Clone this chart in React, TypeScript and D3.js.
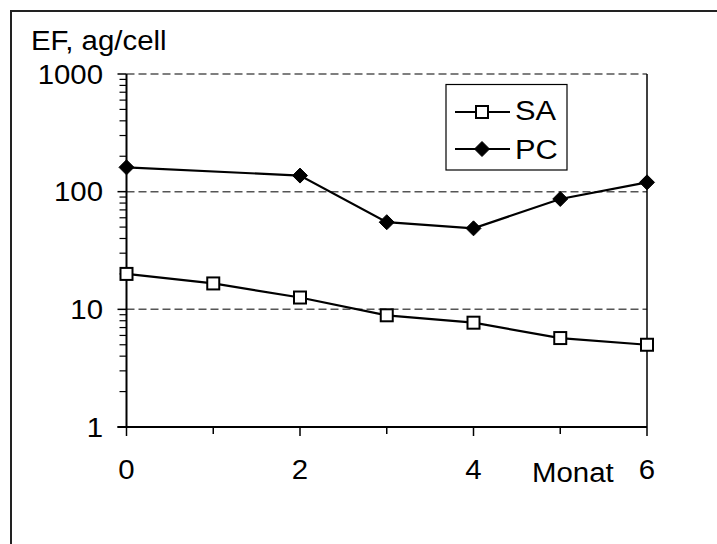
import React from "react";
import * as d3 from "d3";

const months = [0, 1, 2, 3, 4, 5, 6];
const saValues = [20, 16.6, 12.6, 8.9, 7.7, 5.7, 5.0];
const pcMonths = [0, 2, 3, 4, 5, 6];
const pcValues = [161, 137, 55, 48.8, 86.7, 120];
const yTickValues = [1, 10, 100, 1000];
const xTickLabels = [0, 2, 4, 6];
const xMinorTicks = [1, 3, 5];
const seriesNames = ["SA", "PC"];

const W = 717;
const H = 544;
const FONT = "'Liberation Sans', Arial, Helvetica, sans-serif";

export default function App() {
  const x = d3.scaleLinear().domain([0, 6]).range([126.5, 647]);
  const y = d3.scaleLog().domain([1, 1000]).range([427, 74]);

  const line = d3
    .line<[number, number]>()
    .x((d) => x(d[0]))
    .y((d) => y(d[1]));

  const saPts: [number, number][] = months.map((m, i) => [m, saValues[i]]);
  const pcPts: [number, number][] = pcMonths.map((m, i) => [m, pcValues[i]]);

  // log-scale minor ticks 2..9 in each decade
  const minorY: number[] = [];
  for (let dec = 1; dec < 1000; dec *= 10) {
    for (let k = 2; k <= 9; k++) minorY.push(dec * k);
  }

  const x0 = x(0);
  const x1 = x(6);
  const yBottom = y(1);
  const yTop = y(1000);

  const label = (
    tx: number,
    ty: number,
    text: string | number,
    anchor: "start" | "middle" | "end",
    sx = 1.05,
    key?: string | number
  ) => (
    <text
      key={key}
      transform={`translate(${tx},${ty}) scale(${sx},1)`}
      textAnchor={anchor}
      fontFamily={FONT}
      fontSize={28}
      fill="#000"
    >
      {text}
    </text>
  );

  const square = (cx: number, cy: number, key?: string | number) => (
    <rect
      key={key}
      x={cx - 6}
      y={cy - 6}
      width={12}
      height={12}
      fill="#fff"
      stroke="#000"
      strokeWidth={2}
    />
  );
  const diamond = (cx: number, cy: number, key?: string | number) => (
    <path
      key={key}
      d={`M${cx},${cy - 7.5}L${cx + 7.5},${cy}L${cx},${cy + 7.5}L${cx - 7.5},${cy}Z`}
      fill="#000"
      stroke="#000"
      strokeWidth={1}
    />
  );

  return (
    <svg
      width={W}
      height={H}
      style={{ position: "absolute", left: 0, top: 0 }}
      xmlns="http://www.w3.org/2000/svg"
    >
      <rect x={0} y={0} width={W} height={H} fill="#fff" />
      {/* chart frame */}
      <rect x={11} y={11} width={W + 20} height={H + 20} fill="none" stroke="#222" strokeWidth={2} />

      {/* gridlines */}
      {yTickValues.slice(1).map((v) => (
        <line
          key={`g${v}`}
          x1={x0}
          x2={x1}
          y1={y(v)}
          y2={y(v)}
          stroke="#555"
          strokeWidth={1.5}
          strokeDasharray="8,4"
        />
      ))}

      {/* right plot edge */}
      <line x1={x1} x2={x1} y1={yTop} y2={yBottom} stroke="#000" strokeWidth={1.5} />

      {/* y axis */}
      <line x1={x0} x2={x0} y1={yTop} y2={yBottom} stroke="#000" strokeWidth={2} />
      {minorY.map((v) => (
        <line key={`my${v}`} x1={x0 - 7} x2={x0} y1={y(v)} y2={y(v)} stroke="#000" strokeWidth={1.2} />
      ))}
      {yTickValues.map((v) => (
        <line key={`ty${v}`} x1={x0 - 9} x2={x0} y1={y(v)} y2={y(v)} stroke="#000" strokeWidth={1.5} />
      ))}
      {yTickValues.map((v) => label(103, y(v) + 9.5, v, "end", 1.05, `ly${v}`))}

      {/* x axis */}
      <line x1={x0 - 9} x2={x1} y1={yBottom} y2={yBottom} stroke="#000" strokeWidth={2} />
      {xTickLabels.map((v) => (
        <line key={`tx${v}`} x1={x(v)} x2={x(v)} y1={yBottom} y2={yBottom + 9} stroke="#000" strokeWidth={1.5} />
      ))}
      {xMinorTicks.map((v) => (
        <line key={`mx${v}`} x1={x(v)} x2={x(v)} y1={yBottom} y2={yBottom + 7} stroke="#000" strokeWidth={1.5} />
      ))}
      {xTickLabels.map((v) => label(x(v), 479, v, "middle", 1.05, `lx${v}`))}
      {label(532, 482, "Monat", "start", 1.05)}

      {/* axis title */}
      {label(31, 50, "EF, ag/cell", "start", 1.05)}

      {/* series */}
      <path d={line(saPts) || ""} fill="none" stroke="#000" strokeWidth={2.2} />
      <path d={line(pcPts) || ""} fill="none" stroke="#000" strokeWidth={2.2} />
      {saPts.map((p, i) => square(x(p[0]), y(p[1]), `s${i}`))}
      {pcPts.map((p, i) => diamond(x(p[0]), y(p[1]), `d${i}`))}

      {/* legend */}
      <rect x={446} y={84.5} width={121} height={85.5} fill="#fff" stroke="#000" strokeWidth={1.2} />
      <line x1={455} x2={510} y1={112} y2={112} stroke="#000" strokeWidth={2.2} />
      {square(482, 112)}
      {label(515, 120, seriesNames[0], "start", 1.1)}
      <line x1={455} x2={510} y1={149} y2={149} stroke="#000" strokeWidth={2.2} />
      {diamond(482, 149)}
      {label(515, 159, seriesNames[1], "start", 1.1)}
    </svg>
  );
}
